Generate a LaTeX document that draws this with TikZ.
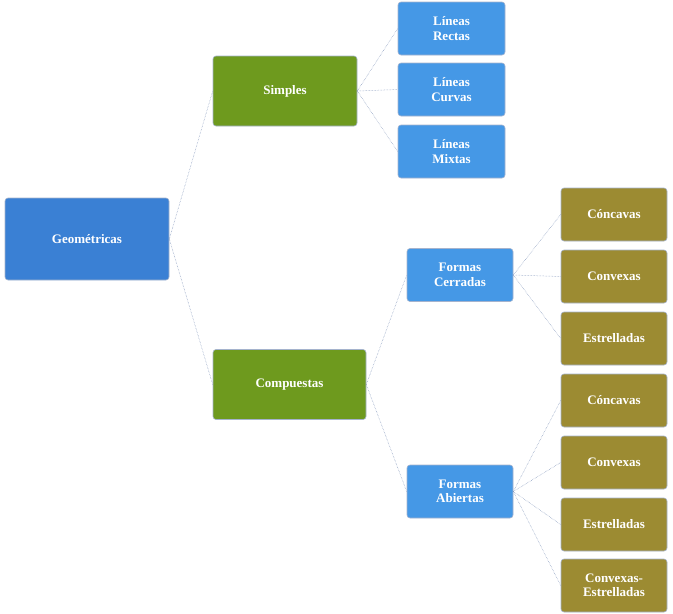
\documentclass[tikz,border=0pt]{standalone}
\usepackage{fontspec}
\setmainfont{Liberation Serif}
\definecolor{rootblue}{HTML}{3A80D4}
\definecolor{leafblue}{HTML}{4598E6}
\definecolor{grassgreen}{HTML}{6E9A1E}
\definecolor{olive}{HTML}{9C8B32}
\definecolor{edgeline}{HTML}{7F93B8}
\tikzset{
  box/.style={rounded corners=3pt,draw=edgeline!70,line width=0.6pt,text=white,
    font=\fontsize{13}{14.5}\selectfont\bfseries,align=center,inner sep=0pt},
  rootbox/.style={box,fill=rootblue,minimum width=164pt,minimum height=82pt},
  midbox/.style={box,fill=grassgreen,minimum width=144pt,minimum height=70pt},
  linebox/.style={box,fill=leafblue,minimum width=107pt,minimum height=53pt},
  formbox/.style={box,fill=olive,minimum width=106pt,minimum height=53pt},
  link/.style={densely dotted,edgeline,line width=0.5pt}
}
\begin{document}
\begin{tikzpicture}[x=1pt,y=-1pt]
    \useasboundingbox (0,0) rectangle (673,614);
    \node[rootbox] (geo) at (87,239) {Geométricas};
    \node[midbox] (simp) at (285,91) {Simples};
    \node[midbox,minimum width=153pt] (comp) at (289.5,384.5) {Compuestas};
    \node[linebox] (rect) at (451.5,28.5) {Líneas\\Rectas};
    \node[linebox] (curv) at (451.5,89.5) {Líneas\\Curvas};
    \node[linebox] (mixt) at (451.5,151.5) {Líneas\\Mixtas};
    \node[linebox,minimum width=106pt] (cerr) at (460,275) {Formas\\Cerradas};
    \node[linebox,minimum width=106pt] (abie) at (460,491.5) {Formas\\Abiertas};
    \node[formbox] (conc1) at (614,214.5) {Cóncavas};
    \node[formbox] (conv1) at (614,276.5) {Convexas};
    \node[formbox] (estr1) at (614,338.5) {Estrelladas};
    \node[formbox] (conc2) at (614,400.5) {Cóncavas};
    \node[formbox] (conv2) at (614,462.5) {Convexas};
    \node[formbox] (estr2) at (614,524.5) {Estrelladas};
    \node[formbox] (coes) at (614,585.5) {Convexas-\\Estrelladas};
    % conectores
    \foreach \a/\b in {geo/simp,geo/comp,simp/rect,simp/curv,simp/mixt,comp/cerr,comp/abie,
      cerr/conc1,cerr/conv1,cerr/estr1,abie/conc2,abie/conv2,abie/estr2,abie/coes}
    \draw[link] (\a.east) -- (\b.west);
\end{tikzpicture}
\end{document}
